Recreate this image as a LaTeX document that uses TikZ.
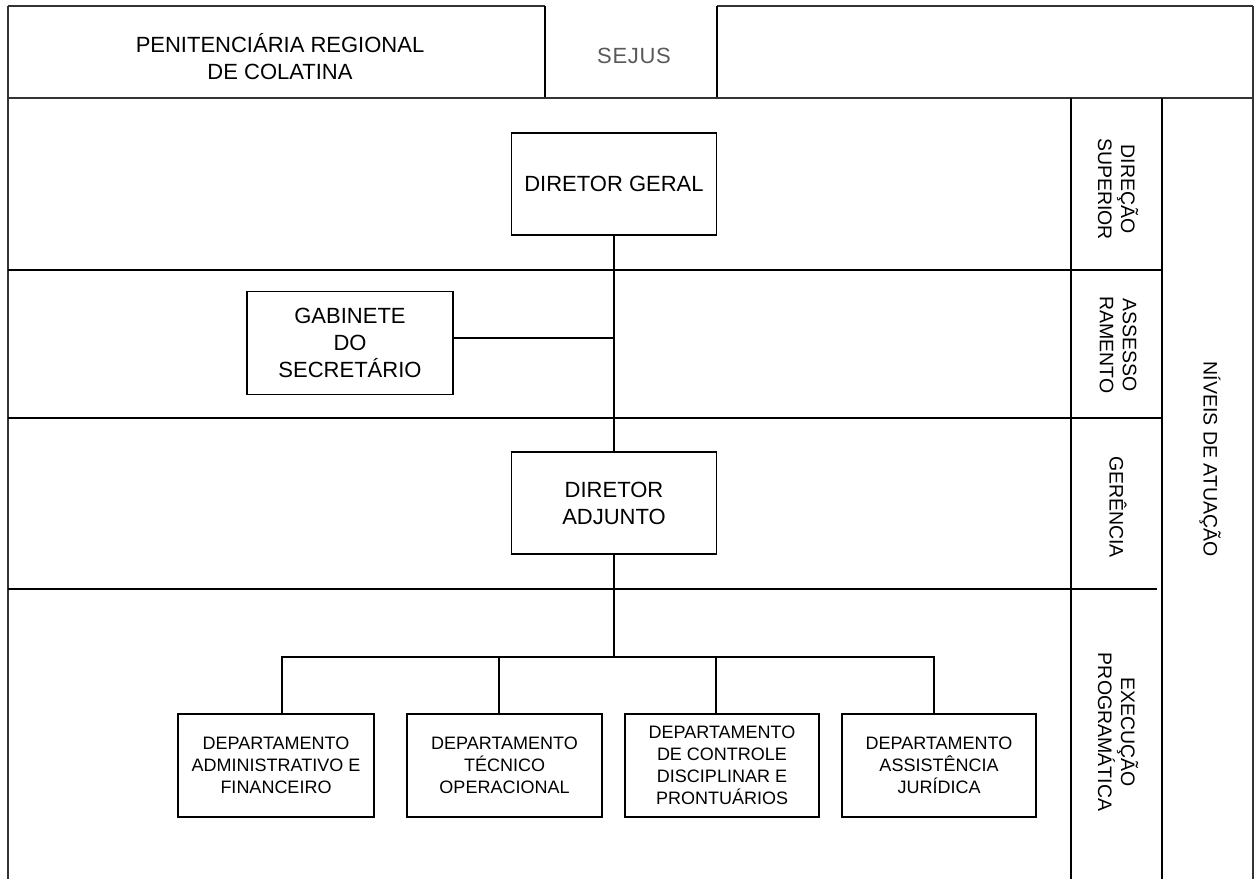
\documentclass[tikz,border=0pt]{standalone}
\usepackage{fontspec}
\setmainfont{Liberation Sans}
\begin{document}
\begin{tikzpicture}[x=1pt,y=-1pt,
  frame/.style={line width=2pt, draw=black!80},
  grid/.style={line width=1.3pt, draw=black},
  conn/.style={line width=1.3pt, draw=black},
  bigbox/.style={draw, line width=1.2pt, align=center, inner sep=0pt,
     font=\fontsize{22}{27}\selectfont},
  deptbox/.style={draw, line width=1.2pt, align=center, inner sep=0pt,
     minimum width=195pt, minimum height=103pt,
     font=\fontsize{18}{22}\selectfont},
  vlabel/.style={rotate=-90, align=center, inner sep=0pt,
     font=\fontsize{19.5}{23}\selectfont}
]
\useasboundingbox (0,0) rectangle (1257,879);
% outer frame and table
\draw[frame] (8,6) -- (545,6);
\draw[frame] (717,6) -- (1253,6);
\draw[frame] (8,6) -- (8,879);
\draw[frame] (1253,6) -- (1253,879);
\draw[grid] (545,6) -- (545,98);
\draw[grid] (717,6) -- (717,98);
\draw[frame] (8,98) -- (1253,98);
\draw[grid] (1071,98) -- (1071,879);
\draw[grid] (1162,98) -- (1162,879);
\draw[grid] (8,270) -- (1162,270);
\draw[grid] (8,418) -- (1162,418);
\draw[grid] (8,589) -- (1157,589);
% header texts
\node[align=center, inner sep=0pt, font=\fontsize{22}{27}\selectfont] (title) at (280,57)
  {PENITENCIÁRIA REGIONAL\\DE COLATINA};
\node[inner sep=0pt, text=black!65, font=\fontsize{22}{26}\selectfont\addfontfeature{LetterSpace=3}] (sejus) at (634,56) {SEJUS};
% row labels
\node[vlabel] (l1) at (1118,189) {DIREÇÃO\\SUPERIOR};
\node[vlabel] (l2) at (1118,345) {ASSESSO\\RAMENTO};
\node[vlabel] (l3) at (1118,507) {GERÊNCIA};
\node[vlabel] (l4) at (1118,732) {EXECUÇÃO\\PROGRAMÁTICA};
\node[vlabel] (l5) at (1210,459) {NÍVEIS DE ATUAÇÃO};
% boxes
\node[bigbox, minimum width=205pt, minimum height=102pt] (DG) at (614,184) {DIRETOR GERAL};
\node[bigbox, minimum width=206pt, minimum height=103pt] (GAB) at (350,343) {GABINETE\\DO\\SECRETÁRIO};
\node[bigbox, minimum width=205pt, minimum height=102pt] (DA) at (614,503) {DIRETOR\\ADJUNTO};
\node[deptbox, minimum width=196pt] (D1) at (276,765.5) {DEPARTAMENTO\\ADMINISTRATIVO E\\FINANCEIRO};
\node[deptbox] (D2) at (504.5,765.5) {DEPARTAMENTO\\TÉCNICO\\OPERACIONAL};
\node[deptbox, minimum width=194pt] (D3) at (722,765.5) {DEPARTAMENTO\\DE CONTROLE\\DISCIPLINAR E\\PRONTUÁRIOS};
\node[deptbox, minimum width=194pt] (D4) at (939,765.5) {DEPARTAMENTO\\ASSISTÊNCIA\\JURÍDICA};
% connectors
\coordinate (bus) at (DA.south |- 0,657);
\coordinate (d1t) at ([xshift=6pt]D1.north);
\coordinate (d2t) at ([xshift=-5.5pt]D2.north);
\coordinate (d3t) at ([xshift=-6pt]D3.north);
\coordinate (d4t) at ([xshift=-5pt]D4.north);
\draw[conn] (DG.south) -- (DA.north);
\draw[conn] ([yshift=5pt]GAB.east) -- ([yshift=5pt]GAB.east -| DG.south);
\draw[conn] (DA.south) -- (bus);
\draw[conn] (d1t) -- (d1t |- bus) -- (d4t |- bus) -- (d4t);
\draw[conn] (d2t) -- (d2t |- bus);
\draw[conn] (d3t) -- (d3t |- bus);
\end{tikzpicture}
\end{document}
